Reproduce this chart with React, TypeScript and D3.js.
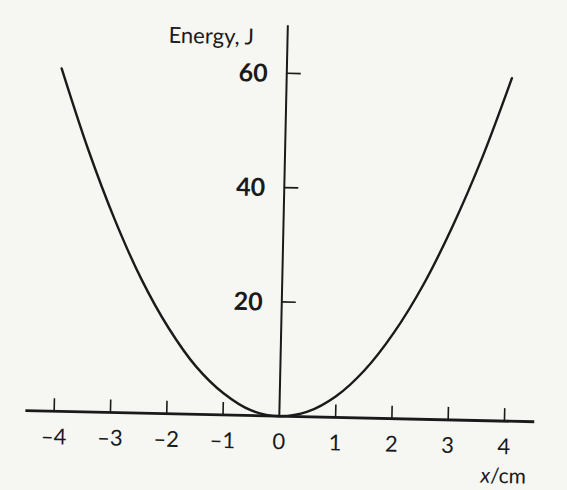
import React from 'react';
import * as d3 from 'd3';

// Displacement (cm) and stored energy (J) along the curve
const positions = [-4, -3.5, -3, -2.5, -2, -1.5, -1, -0.5, 0, 0.5, 1, 1.5, 2, 2.5, 3, 3.5, 4];
const energies = [60, 46, 33.8, 23.4, 15, 8.4, 3.8, 0.9, 0, 0.9, 3.7, 8.4, 15, 23.4, 33.8, 45.9, 60];

const xTickValues = [-4, -3, -2, -1, 0, 1, 2, 3, 4];
const xTickLabels = ['–4', '–3', '–2', '–1', '0', '1', '2', '3', '4'];
const yTickValues = [20, 40, 60];
const yTickLabels = ['20', '40', '60'];

const W = 567;
const H = 490;
const origin = { x: 279.3, y: 416.2 };
const tilt = 1.25;
const ink = '#1a1a1a';
const font = 'Lato, "Open Sans", sans-serif';

export default function App() {
  const x = d3.scaleLinear().domain([-4, 4]).range([-225.2, 225.2]);
  const y = d3.scaleLinear().domain([0, 60]).range([0, -343]);

  const curve = d3
    .line<number>()
    .x((_, i) => x(positions[i]))
    .y((d) => y(d))
    .curve(d3.curveCatmullRom.alpha(0.5));

  return (
    <svg
      width={W}
      height={H}
      viewBox={`0 0 ${W} ${H}`}
      style={{ position: 'absolute', left: 0, top: 0, display: 'block' }}
    >
      <rect x={0} y={0} width={W} height={H} fill="#f6f6f3" />
      <g transform={`translate(${origin.x},${origin.y}) rotate(${tilt})`}>
        {/* x axis */}
        <line x1={-254} x2={255} y1={0} y2={0} stroke={ink} strokeWidth={2.8} />
        {xTickValues
          .filter((v) => v !== 0)
          .map((v) => (
            <line key={`xt${v}`} x1={x(v)} x2={x(v)} y1={0} y2={-13} stroke={ink} strokeWidth={1.6} />
          ))}
        {xTickValues.map((v, i) => (
          <text
            key={`xl${v}`}
            x={x(v)}
            y={33}
            textAnchor="middle"
            fontFamily={font}
            fontSize={22}
            fill={ink}
          >
            {xTickLabels[i]}
          </text>
        ))}
        <text x={x(4)} y={62} textAnchor="middle" fontFamily={font} fontSize={21} fill={ink}>
          <tspan fontStyle="italic">x</tspan>/cm
        </text>

        {/* y axis */}
        <line x1={0} x2={0} y1={0} y2={-391} stroke={ink} strokeWidth={2} />
        {yTickValues.map((v, i) => (
          <g key={`yt${v}`}>
            <line x1={0} x2={14} y1={y(v)} y2={y(v)} stroke={ink} strokeWidth={1.6} />
            <text
              x={-19}
              y={y(v)}
              dy="0.36em"
              textAnchor="end"
              fontFamily={font}
              fontWeight="bold"
              fontSize={25}
              fill={ink}
            >
              {yTickLabels[i]}
            </text>
          </g>
        ))}
        <text x={-119} y={-371} fontFamily={font} fontSize={22} fill={ink}>
          Energy, J
        </text>

        {/* energy curve */}
        <path d={curve(energies) ?? ''} fill="none" stroke={ink} strokeWidth={2.4} strokeLinecap="round" />
      </g>
    </svg>
  );
}
